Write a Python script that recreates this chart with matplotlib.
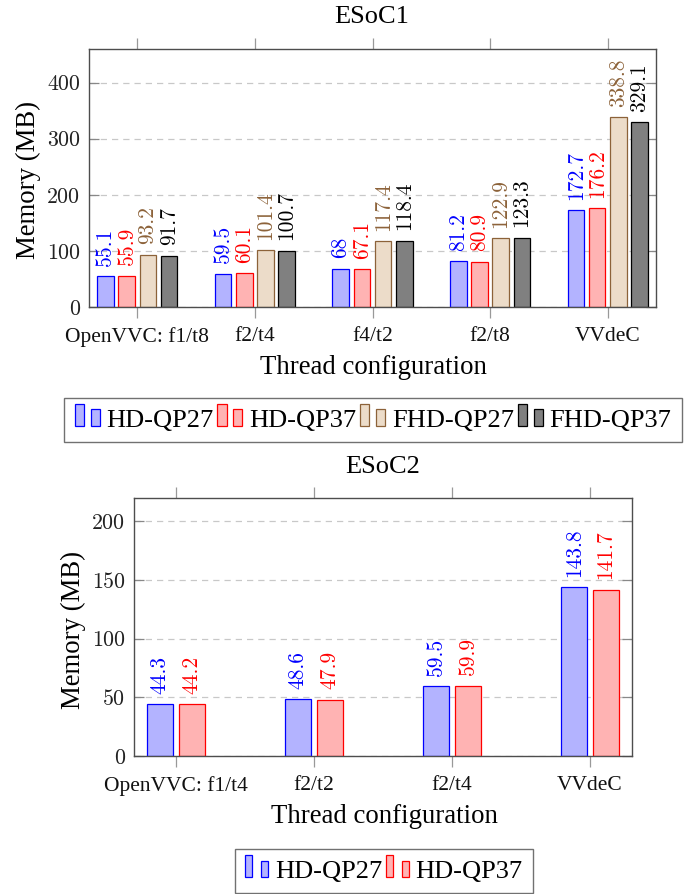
import matplotlib
matplotlib.use("Agg")
import matplotlib.pyplot as plt
import numpy as np
from matplotlib.legend_handler import HandlerBase
from matplotlib.patches import Rectangle, Patch

# ---------------- data ----------------
cats1 = ['OpenVVC: f1/t8', 'f2/t4', 'f4/t2', 'f2/t8', 'VVdeC']
hd27_1 = [55.1, 59.5, 68, 81.2, 172.7]
hd37_1 = [55.9, 60.1, 67.1, 80.9, 176.2]
fhd27_1 = [93.2, 101.4, 117.4, 122.9, 338.8]
fhd37_1 = [91.7, 100.7, 118.4, 123.3, 329.1]

cats2 = ['OpenVVC: f1/t4', 'f2/t2', 'f2/t4', 'VVdeC']
hd27_2 = [44.3, 48.6, 59.5, 143.8]
hd37_2 = [44.2, 47.9, 59.9, 141.7]

series_names = ['HD-QP27', 'HD-QP37', 'FHD-QP27', 'FHD-QP37']
yticks1 = [0, 100, 200, 300, 400]
yticks2 = [0, 50, 100, 150, 200]

# ---------------- styles ----------------
TXT = 'Liberation Serif'
NUM = 'cmr10'
styles = [
    dict(fc='#b3b3ff', ec='#0000ff', tc='#0000ff'),
    dict(fc='#ffb3b3', ec='#ff0000', tc='#ff0000'),
    dict(fc='#ecdcc9', ec='#8c6239', tc='#8c6239'),
    dict(fc='#808080', ec='#000000', tc='#000000'),
]
SPINE = '#4d4d4d'

W, H = 697, 894
fig = plt.figure(figsize=(W / 100, H / 100), dpi=100)


def px_rect(l, t, r, b):
    return [l / W, 1 - b / H, (r - l) / W, (b - t) / H]


def fmt(v):
    return ('%g' % v)


def style_axes(ax, cats, yticks, ylim, xlim):
    ax.set_xlim(*xlim)
    ax.set_ylim(*ylim)
    ax.set_xticks(np.arange(len(cats)))
    ax.set_xticklabels(cats, fontfamily=TXT, fontsize=15.5)
    ax.set_yticks(yticks)
    ax.set_yticklabels([str(t) for t in yticks], fontfamily=NUM, fontsize=15.8)
    ax.tick_params(axis='x', direction='out', length=8, width=0.9, color='#999999',
                   top=True, bottom=True, pad=6.5)
    ax.tick_params(axis='y', direction='in', length=7.5, width=0.9, color='#888888',
                   left=True, right=True, pad=6.5)
    for s in ax.spines.values():
        s.set_color(SPINE)
        s.set_linewidth(1.0)
    ax.set_axisbelow(True)
    ax.yaxis.grid(True, color='#c8c8c8', linestyle=(0, (5, 4)), linewidth=0.9)
    for t in ax.get_yticklabels():
        t.set_color('#222222')
    for t in ax.get_xticklabels():
        t.set_color('#111111')


def draw_bars(ax, data, width, spacing):
    n = len(data)
    x = np.arange(len(data[0]))
    for i, vals in enumerate(data):
        st = styles[i]
        off = (i - (n - 1) / 2) * spacing
        bars = ax.bar(x + off, vals, width, facecolor=st['fc'], edgecolor=st['ec'],
                      linewidth=0.9, zorder=2)
        for b, v in zip(bars, vals):
            ax.annotate(fmt(v), (b.get_x() + b.get_width() / 2, b.get_height()),
                        xytext=(0, 7.5), textcoords='offset points', rotation=90,
                        ha='center', va='bottom', fontfamily=NUM, fontsize=15.5,
                        color=st['tc'], zorder=3)


class TwoBarHandler(HandlerBase):
    def __init__(self, bw, gap, h1, h2):
        super().__init__()
        self.bw, self.gap, self.h1, self.h2 = bw, gap, h1, h2

    def create_artists(self, legend, orig_handle, xdescent, ydescent, width, height,
                       fontsize, trans):
        fc = orig_handle.get_facecolor()
        ec = orig_handle.get_edgecolor()
        bw = self.bw
        r1 = Rectangle((-xdescent, 0.3), bw, self.h1, facecolor=fc, edgecolor=ec,
                       linewidth=0.9, transform=trans)
        r2 = Rectangle((-xdescent + self.gap, 0.3), bw, self.h2, facecolor=fc,
                       edgecolor=ec, linewidth=0.9, transform=trans)
        return [r1, r2]


def add_legend(n, cx, cy, bw, gap, h1, h2, hl):
    handles = [Patch(facecolor=styles[i]['fc'], edgecolor=styles[i]['ec'])
               for i in range(n)]
    hm = {h: TwoBarHandler(bw, gap, h1, h2) for h in handles}
    leg = fig.legend(handles, series_names[:n], loc='center',
                     bbox_to_anchor=(cx / W, 1 - cy / H), ncol=n,
                     prop={'family': TXT, 'size': 19}, handler_map=hm,
                     handlelength=hl, handletextpad=0.25, columnspacing=0.15,
                     borderpad=0.4, borderaxespad=0, frameon=True, fancybox=False)
    fr = leg.get_frame()
    fr.set_edgecolor(SPINE)
    fr.set_linewidth(1.0)
    return leg


# ---------------- top chart ----------------
ax1 = fig.add_axes(px_rect(89, 49, 656, 307))
draw_bars(ax1, [hd27_1, hd37_1, fhd27_1, fhd37_1], 0.141, 0.18)
style_axes(ax1, cats1, yticks1, (0, 460), (-0.41, 4.41))
fig.text(372 / W, 1 - 23 / H, 'ESoC1', ha='center', va='baseline', fontfamily=TXT,
         fontsize=19)
fig.text(373 / W, 1 - 374 / H, 'Thread configuration', ha='center', va='baseline',
         fontfamily=TXT, fontsize=19.3)
fig.text(28 / W, 1 - 180 / H, 'Memory (MB)', ha='center', va='center', rotation=90,
         fontfamily=TXT, fontsize=19.3)
add_legend(4, 373, 420, 6.5, 11.5, 15.8, 12.2, 0.95)

# ---------------- bottom chart ----------------
ax2 = fig.add_axes(px_rect(134, 498, 632, 756))
draw_bars(ax2, [hd27_2, hd37_2], 0.193, 0.23)
style_axes(ax2, cats2, yticks2, (0, 220), (-0.304, 3.304))
fig.text(383 / W, 1 - 473 / H, 'ESoC2', ha='center', va='baseline', fontfamily=TXT,
         fontsize=19)
fig.text(384 / W, 1 - 823 / H, 'Thread configuration', ha='center', va='baseline',
         fontfamily=TXT, fontsize=19.3)
fig.text(73 / W, 1 - 630 / H, 'Memory (MB)', ha='center', va='center', rotation=90,
         fontfamily=TXT, fontsize=19.3)
add_legend(2, 384, 871, 5.0, 11.5, 15.8, 11.5, 0.87)

fig.savefig('out.png', dpi=100)
